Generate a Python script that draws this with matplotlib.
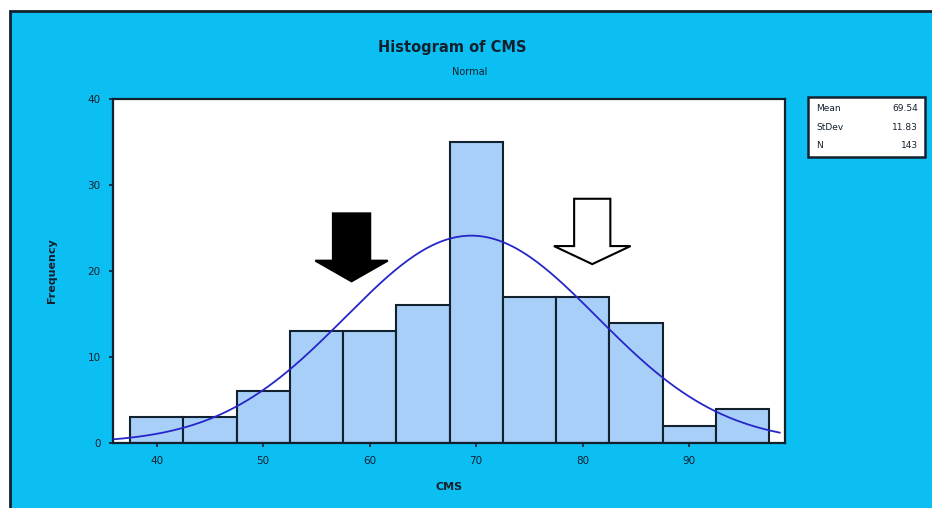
import numpy as np
import matplotlib
matplotlib.use('Agg')
import matplotlib.pyplot as plt
from matplotlib.patches import Rectangle, Polygon

# histogram data (bin centres, width 5)
bin_centers = [40, 45, 50, 55, 60, 65, 70, 75, 80, 85, 90, 95]
counts = [3, 3, 6, 13, 13, 16, 35, 17, 17, 14, 2, 4]
bin_width = 5
mean_val = 69.54
std_val = 11.83
n_val = 143

x_ticks = [40, 50, 60, 70, 80, 90]
y_ticks = [0, 10, 20, 30, 40]

bg = '#0BBFF3'
dark = '#13202e'

fig = plt.figure(figsize=(9.32, 5.08), dpi=100)
fig.patch.set_facecolor('white')
# cyan panel with dark frame
fig.add_artist(Rectangle((10 / 932, -0.02), 1.0, (508 - 11) / 508 + 0.02,
                         transform=fig.transFigure, facecolor=bg,
                         edgecolor=dark, linewidth=2, zorder=0))

ax = fig.add_axes([113 / 932, 1 - 443 / 508, (785 - 113) / 932, (443 - 99) / 508])
ax.set_facecolor('white')

ax.bar(bin_centers, counts, width=bin_width, color='#A7CFF8',
       edgecolor=dark, linewidth=1.5, zorder=2)

xs = np.linspace(36.0, 98.5, 300)
pdf = np.exp(-0.5 * ((xs - mean_val) / std_val) ** 2) / (std_val * np.sqrt(2 * np.pi))
ax.plot(xs, pdf * n_val * bin_width, color='#2626C8', linewidth=1.3, zorder=3)

ax.set_xlim(35.9, 99.0)
ax.set_ylim(0, 40)
ax.set_xticks(x_ticks)
ax.set_yticks(y_ticks)
ax.tick_params(labelsize=7.5, length=3, width=1.2, colors=dark, pad=6)
for s in ax.spines.values():
    s.set_linewidth(1.6)
    s.set_color(dark)

ax.set_xlabel('CMS', fontsize=8, fontweight='bold', color=dark, labelpad=12)
ax.set_ylabel('Frequency', fontsize=8, fontweight='bold', color=dark, labelpad=22)

# arrows drawn on the chart
def down_arrow(cx, top, head_y, tip, shaft_w, head_w, face):
    pts = [(cx - shaft_w / 2, top), (cx + shaft_w / 2, top),
           (cx + shaft_w / 2, head_y), (cx + head_w / 2, head_y),
           (cx, tip), (cx - head_w / 2, head_y), (cx - shaft_w / 2, head_y)]
    ax.add_patch(Polygon(pts, closed=True, facecolor=face, edgecolor='black',
                         linewidth=1.5, zorder=4))

down_arrow(58.3, 26.7, 21.2, 18.8, 3.5, 6.8, 'black')
down_arrow(80.9, 28.4, 22.9, 20.8, 3.4, 7.2, 'white')

fig.text(452 / 932, 1 - 47 / 508, 'Histogram of CMS', ha='center', va='center',
         fontsize=10.5, fontweight='bold', color=dark)
fig.text(470 / 932, 1 - 72 / 508, 'Normal', ha='center', va='center',
         fontsize=7, color=dark)

# stats box
fig.add_artist(Rectangle((808 / 932, 1 - 157 / 508), 117 / 932, 60 / 508,
                         transform=fig.transFigure, facecolor='white',
                         edgecolor=dark, linewidth=1.8, zorder=5))
rows = [('Mean', f'{mean_val:.2f}'), ('StDev', f'{std_val:.2f}'), ('N', f'{n_val}')]
for i, (lab, val) in enumerate(rows):
    yy = 1 - (108 + i * 19) / 508
    fig.text(816 / 932, yy, lab, ha='left', va='center', fontsize=6.5, color=dark, zorder=6)
    fig.text(918 / 932, yy, val, ha='right', va='center', fontsize=6.5, color=dark, zorder=6)

fig.savefig('out.png', dpi=100, facecolor=fig.get_facecolor())
